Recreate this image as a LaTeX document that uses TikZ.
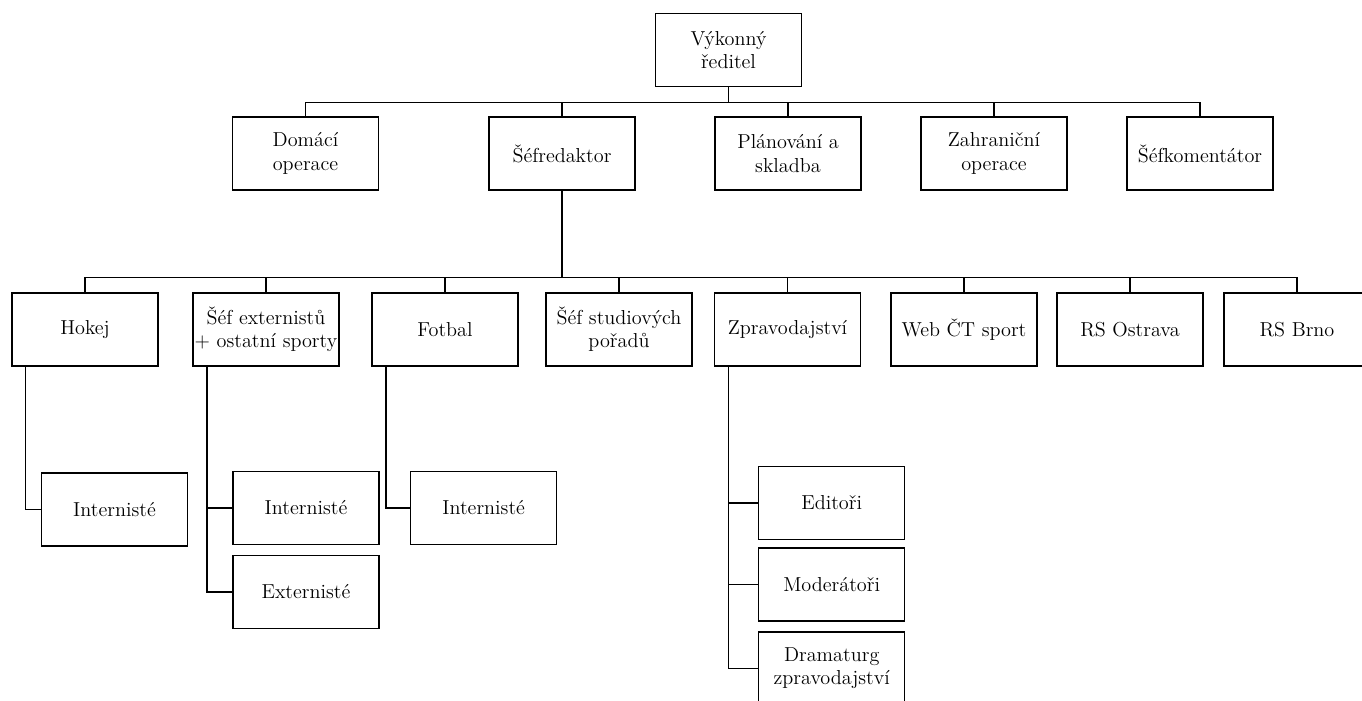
\documentclass[tikz,border=0pt]{standalone}
\usepackage{tikz}
\usetikzlibrary{calc}

\begin{document}
\begin{tikzpicture}[x=0.02cm,y=-0.02cm,font=\fontsize{11.5}{13.2}\selectfont,
  box/.style={draw,line width=0.7pt,minimum width=2.92cm,minimum height=1.46cm,align=center,inner sep=0pt},
  conn/.style={line width=0.6pt}]
 \useasboundingbox (0,0) rectangle (1362,700);
 \clip (0,0) rectangle (1362,700);
 % top and first row
 \node[box] (ceo) at (728.5,50) {Výkonný\\ředitel};
 \node[box] (dom) at (305.5,153.5) {Domácí\\operace};
 \node[box] (chief) at (562,153.5) {Šéfredaktor};
 \node[box] (plan) at (788,153.5) {Plánování a\\skladba};
 \node[box] (abroad) at (994,153.5) {Zahraniční\\operace};
 \node[box] (comm) at (1200,153.5) {Šéfkomentátor};
 \foreach \n in {dom,chief,plan,abroad,comm} { \draw[conn] (ceo.south) -- ++(0,15) -| (\n.north); }
 % second row under the chief editor
 \node[box] (hockey) at (85,329.5) {Hokej};
 \node[box] (ext) at (266,329.5) {Šéf externistů\\+ ostatní sporty};
 \node[box] (foot) at (445,329.5) {Fotbal};
 \node[box] (studio) at (619,329.5) {Šéf studiových\\pořadů};
 \node[box] (news) at (787.5,329.5) {Zpravodajství};
 \node[box] (web) at (964,329.5) {Web ČT sport};
 \node[box] (ostrava) at (1130,329.5) {RS Ostrava};
 \node[box] (brno) at (1297,329.5) {RS Brno};
 \foreach \n in {hockey,ext,foot,studio,news,web,ostrava,brno} { \draw[conn] (chief.south) -- ++(0,87) -| (\n.north); }
 % third level
 \node[box] (hockeyin) at (114.5,509.5) {Internisté};
 \node[box] (extin) at (306,508) {Internisté};
 \node[box] (extex) at (306,592) {Externisté};
 \node[box] (footin) at (483.7,508) {Internisté};
 \node[box] (editors) at (831.7,503) {Editoři};
 \node[box] (anchors) at (831.7,584.5) {Moderátoři};
 \node[box] (drama) at (831.7,668.5) {Dramaturg\\zpravodajství};
 \draw[conn] ($(hockey.south west)+(14,0)$) |- (hockeyin.west);
 \foreach \n in {extin,extex} { \draw[conn] ($(ext.south west)+(14.6,0)$) |- (\n.west); }
 \draw[conn] ($(foot.south west)+(14.6,0)$) |- (footin.west);
 \foreach \n in {editors,anchors,drama} { \draw[conn] ($(news.south west)+(14.2,0)$) |- (\n.west); }
\end{tikzpicture}
\end{document}
